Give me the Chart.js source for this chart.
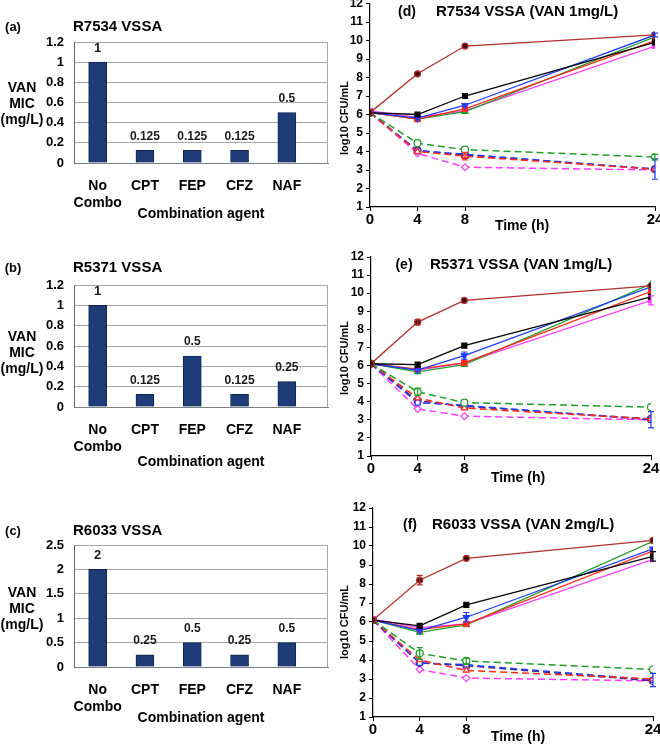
<!DOCTYPE html>
<html>
<head>
<meta charset="utf-8">
<script src="https://cdn.jsdelivr.net/npm/chart.js@4.4.1/dist/chart.umd.min.js"></script>
<style>
  html, body { margin: 0; padding: 0; background: #fff; overflow: hidden; }
  body { width: 660px; height: 747px; position: relative; }
  canvas { position: absolute; }
</style>
</head>
<body>
<canvas id="barA"></canvas>
<canvas id="barB"></canvas>
<canvas id="barC"></canvas>
<canvas id="lineD"></canvas>
<canvas id="lineE"></canvas>
<canvas id="lineF"></canvas>
<script>
// ---- data ----
const agents = [["No", "Combo"], "CPT", "FEP", "CFZ", "NAF"];
const micR7534 = [1, 0.125, 0.125, 0.125, 0.5];
const micR5371 = [1, 0.125, 0.5, 0.125, 0.25];
const micR6033 = [2, 0.25, 0.5, 0.25, 0.5];

const times = [0, 4, 8, 24];

// series order: solid dark red, black, blue, red, green, magenta,
// dashed green, red, blue, purple, magenta
const killR7534 = [
  [6.1, 8.2, 9.7, 10.3],
  [6.1, 6.0, 7.0, 9.9],
  [6.1, 5.8, 6.5, 10.3],
  [6.1, 5.75, 6.3, 10.0],
  [6.1, 5.75, 6.15, 10.2],
  [6.2, 5.85, 6.2, 9.7],
  [6.1, 4.45, 4.1, 3.7],
  [6.1, 4.0, 3.75, 3.05],
  [6.1, 4.05, 3.85, 3.05],
  [6.1, 4.05, 3.8, 3.05],
  [6.1, 3.9, 3.15, 3.0],
];
const killR5371 = [
  [6.1, 8.4, 9.6, 10.4],
  [6.1, 6.05, 7.1, 9.8],
  [6.1, 5.75, 6.55, 10.35],
  [6.1, 5.8, 6.15, 10.1],
  [6.1, 5.65, 6.05, 10.5],
  [6.1, 5.75, 6.15, 9.6],
  [6.1, 4.55, 3.95, 3.7],
  [6.1, 4.2, 3.65, 3.05],
  [6.1, 3.95, 3.8, 3.0],
  [6.1, 4.05, 3.75, 3.05],
  [6.1, 3.6, 3.2, 3.0],
];
const killR6033 = [
  [6.1, 8.2, 9.35, 10.3],
  [6.1, 5.8, 6.9, 9.45],
  [6.1, 5.55, 6.25, 9.85],
  [6.1, 5.6, 5.9, 9.75],
  [6.1, 5.45, 5.85, 10.25],
  [6.15, 5.7, 5.9, 9.3],
  [6.1, 4.35, 3.95, 3.5],
  [6.1, 4.0, 3.45, 3.0],
  [6.1, 3.85, 3.75, 2.95],
  [6.1, 3.85, 3.7, 2.9],
  [6.1, 3.5, 3.05, 2.9],
];
// error bars: [series, time index, +/- value]
const errR7534 = [[8, 3, 0.55], [6, 3, 0.15], [2, 3, 0.1], [7, 2, 0.2]];
const errR5371 = [[0, 1, 0.15], [5, 3, 0.25], [8, 3, 0.45], [6, 1, 0.2], [2, 2, 0.2]];
const errR6033 = [[0, 1, 0.25], [1, 3, 0.25], [6, 1, 0.3], [8, 3, 0.35], [2, 2, 0.25], [6, 2, 0.15]];

// ---- styles ----
const FONT = "'Liberation Sans', Arial, sans-serif";
const BAR = "#1d3c78";
const BAR_EDGE = "#0f2450";

const lineStyles = [
  { label: "dark red", color: "#b0302a", fill: "#4a0d0d", shape: "circle", dash: [] },
  { label: "black", color: "#000000", fill: "#000000", shape: "rect", dash: [] },
  { label: "blue", color: "#1f3cff", fill: "#1f3cff", shape: "triangle", rot: 180, dash: [] },
  { label: "red", color: "#ff2a1a", fill: "#ff2a1a", shape: "rect", dash: [] },
  { label: "green", color: "#1f9e2a", fill: "#1f9e2a", shape: "triangle", dash: [] },
  { label: "magenta", color: "#ff3cff", fill: "#ff3cff", shape: "rect", dash: [] },
  { label: "green dashed", color: "#1f9e2a", fill: "#ffffff", shape: "circle", dash: [7, 4] },
  { label: "red dashed", color: "#ff2a1a", fill: "#ffffff", shape: "triangle", dash: [7, 4] },
  { label: "blue dashed", color: "#1f3cff", fill: "#ffffff", shape: "rect", dash: [7, 4] },
  { label: "purple dashed", color: "#5b1f7a", fill: "#ffffff", shape: "circle", dash: [7, 4] },
  { label: "magenta dashed", color: "#ff3cff", fill: "#ffffff", shape: "rectRot", dash: [7, 4] },
];

const trimNum = (v) => String(+Number(v).toFixed(2));

// ---- plugins ----
const panelText = {
  id: "panelText",
  afterDraw(chart, args, opts) {
    const ctx = chart.ctx;
    (opts.items || []).forEach((t) => {
      ctx.save();
      ctx.font = t.font;
      ctx.fillStyle = "#000";
      ctx.textAlign = t.align || "left";
      ctx.textBaseline = "middle";
      ctx.translate(t.x - opts.ox, t.y - opts.oy);
      if (t.rotate) ctx.rotate(t.rotate);
      ctx.fillText(t.text, 0, 0);
      ctx.restore();
    });
  },
};

const barValues = {
  id: "barValues",
  afterDatasetsDraw(chart) {
    const ctx = chart.ctx;
    const area = chart.chartArea;
    ctx.save();
    ctx.strokeStyle = "#a6a6a6";
    ctx.lineWidth = 1;
    ctx.beginPath();
    ctx.moveTo(area.right - 0.5, area.top);
    ctx.lineTo(area.right - 0.5, area.bottom);
    ctx.stroke();
    ctx.textAlign = "center";
    ctx.textBaseline = "middle";
    ctx.fillStyle = "#1a1a1a";
    chart.getDatasetMeta(0).data.forEach((bar, i) => {
      const v = chart.data.datasets[0].data[i].y;
      ctx.font = (v >= 1 ? "bold 13px " : "bold 12px ") + FONT;
      ctx.fillText(String(v), bar.x, bar.y - 14);
    });
    ctx.restore();
  },
};

const errorBars = {
  id: "errorBars",
  afterDatasetsDraw(chart, args, opts) {
    const ctx = chart.ctx;
    const y = chart.scales.y;
    (opts.list || []).forEach(([s, p, e]) => {
      const pt = chart.getDatasetMeta(s).data[p];
      const ds = chart.data.datasets[s];
      const v = ds.data[p].y;
      const y1 = y.getPixelForValue(v - e);
      const y2 = y.getPixelForValue(v + e);
      ctx.save();
      ctx.strokeStyle = ds.borderColor;
      ctx.lineWidth = 1.2;
      ctx.beginPath();
      ctx.moveTo(pt.x, y1);
      ctx.lineTo(pt.x, y2);
      ctx.moveTo(pt.x - 3, y1);
      ctx.lineTo(pt.x + 3, y1);
      ctx.moveTo(pt.x - 3, y2);
      ctx.lineTo(pt.x + 3, y2);
      ctx.stroke();
      ctx.restore();
    });
  },
};

// ---- bar panels ----
const makeBar = (id, values, yMax, yStep, g) => {
  const canvasTop = g.top - 42;
  const height = Math.round(g.titleY + 8.4 - canvasTop);
  const xh = height - (g.bottom - canvasTop);
  const el = document.getElementById(id);
  el.width = 330;
  el.height = height;
  el.style.left = "0px";
  el.style.top = canvasTop + "px";
  const bold14 = { family: FONT, size: 14, weight: "bold" };
  return new Chart(el, {
    type: "bar",
    data: {
      datasets: [
        {
          data: values.map((v, i) => ({ x: i, y: v })),
          backgroundColor: BAR,
          borderColor: BAR_EDGE,
          borderWidth: 1,
          barThickness: 18,
        },
      ],
    },
    options: {
      responsive: false,
      animation: false,
      layout: { padding: { top: 42, right: 2, left: 0, bottom: 0 } },
      plugins: {
        legend: { display: false },
        tooltip: { enabled: false },
        panelText: { ox: 0, oy: canvasTop, items: g.texts },
      },
      scales: {
        x: {
          type: "linear",
          offset: false,
          min: -0.5,
          max: 4.87,
          afterBuildTicks: (s) => {
            s.ticks = agents.map((_, i) => ({ value: i }));
          },
          afterFit: (s) => {
            s.height = xh;
          },
          ticks: {
            callback: (v) => agents[v],
            font: bold14,
            color: "#000",
            padding: 7,
            autoSkip: false,
            maxRotation: 0,
          },
          grid: { display: false },
          border: { color: "#808080" },
          title: {
            display: true,
            text: "Combination agent",
            font: bold14,
            color: "#000",
            padding: 0,
          },
        },
        y: {
          min: 0,
          max: yMax,
          afterFit: (s) => {
            s.width = 74;
          },
          ticks: {
            stepSize: yStep,
            callback: trimNum,
            font: { family: FONT, size: 13, weight: "bold" },
            color: "#000",
            padding: 10,
          },
          grid: { color: "#a6a6a6", drawTicks: false },
          border: { color: "#666" },
        },
      },
    },
    plugins: [panelText, barValues],
  });
};

const barTexts = (letter, title, top, ylab) => [
  { text: letter, x: 13, y: top, align: "center", font: "bold 13px " + FONT },
  { text: title, x: 73, y: top, font: "bold 15px " + FONT },
  { text: "VAN", x: 22, y: ylab, align: "center", font: "bold 14px " + FONT },
  { text: "MIC", x: 22, y: ylab + 16, align: "center", font: "bold 14px " + FONT },
  { text: "(mg/L)", x: 22, y: ylab + 32, align: "center", font: "bold 14px " + FONT },
];

makeBar("barA", micR7534, 1.2, 0.2, {
  top: 42, bottom: 163, titleY: 215,
  texts: barTexts("(a)", "R7534 VSSA", 27, 88),
});
makeBar("barB", micR5371, 1.2, 0.2, {
  top: 285, bottom: 407, titleY: 463,
  texts: barTexts("(b)", "R5371 VSSA", 268, 337),
});
makeBar("barC", micR6033, 2.5, 0.5, {
  top: 545, bottom: 667, titleY: 719,
  texts: barTexts("(c)", "R6033 VSSA", 531, 593),
});

// ---- time-kill panels ----
const makeLine = (id, series, errs, g) => {
  const canvasLeft = 330;
  const canvasTop = Math.round(g.top - 14);
  const padTop = g.top - canvasTop;
  const width = g.right - canvasLeft + 15;
  const height = Math.round(g.bottom - canvasTop + 30);
  const xh = height - (g.bottom - canvasTop);
  const el = document.getElementById(id);
  el.width = width;
  el.height = height;
  el.style.left = canvasLeft + "px";
  el.style.top = canvasTop + "px";
  return new Chart(el, {
    type: "line",
    data: {
      datasets: series.map((vals, i) => {
        const st = lineStyles[i];
        return {
          label: st.label,
          data: vals.map((v, k) => ({ x: times[k], y: v })),
          borderColor: st.color,
          backgroundColor: st.fill,
          pointBorderColor: st.color,
          pointStyle: st.shape,
          pointRotation: st.rot || 0,
          pointRadius: i === 0 ? 3 : 3.5,
          pointBorderWidth: 1.2,
          borderWidth: st.dash.length ? 1.5 : 1.3,
          borderDash: st.dash,
          tension: 0,
          fill: false,
        };
      }),
    },
    options: {
      responsive: false,
      animation: false,
      layout: { padding: { top: padTop, right: 15, left: 0, bottom: 0 } },
      plugins: {
        legend: { display: false },
        tooltip: { enabled: false },
        panelText: { ox: canvasLeft, oy: canvasTop, items: g.texts },
        errorBars: { list: errs },
      },
      scales: {
        x: {
          type: "linear",
          min: 0,
          max: 24,
          afterBuildTicks: (s) => {
            s.ticks = times.map((v) => ({ value: v }));
          },
          afterFit: (s) => {
            s.height = xh;
          },
          ticks: {
            font: { family: FONT, size: 15, weight: "bold" },
            color: "#000",
            padding: 0,
            autoSkip: false,
            maxRotation: 0,
          },
          grid: { drawOnChartArea: false, tickLength: 4, color: "#000" },
          border: { color: "#000", width: 1.2 },
        },
        y: {
          min: 1,
          max: 12,
          afterFit: (s) => {
            s.width = g.left - canvasLeft;
          },
          ticks: {
            stepSize: 1,
            font: { family: FONT, size: 12, weight: "bold" },
            color: "#000",
            padding: 3,
          },
          grid: { drawOnChartArea: false, tickLength: 4, color: "#000" },
          border: { color: "#000", width: 1.2 },
        },
      },
    },
    plugins: [panelText, errorBars],
  });
};

const lineTexts = (letter, lx, title, tx, ty, yLabY, timeX, timeY) => [
  { text: letter, x: lx, y: ty, align: "center", font: "bold 14px " + FONT },
  { text: title, x: tx, y: ty, font: "bold 15px " + FONT },
  { text: "log10 CFU/mL", x: 345, y: yLabY, align: "center", rotate: -Math.PI / 2, font: "bold 11px " + FONT },
  { text: "Time (h)", x: timeX, y: timeY, align: "center", font: "bold 14px " + FONT },
];

makeLine("lineD", killR7534, errR7534, {
  left: 370, right: 655, top: 3.5, bottom: 207,
  texts: lineTexts("(d)", 407, "R7534 VSSA (VAN 1mg/L)", 436, 12, 118, 522, 226),
});
makeLine("lineE", killR5371, errR5371, {
  left: 371, right: 651, top: 257, bottom: 456,
  texts: lineTexts("(e)", 404, "R5371 VSSA (VAN 1mg/L)", 430, 265, 358, 518, 478),
});
makeLine("lineF", killR6033, errR6033, {
  left: 373, right: 653, top: 508, bottom: 717,
  texts: lineTexts("(f)", 410, "R6033 VSSA (VAN 2mg/L)", 432, 525, 622, 518, 737),
});
</script>
</body>
</html>
